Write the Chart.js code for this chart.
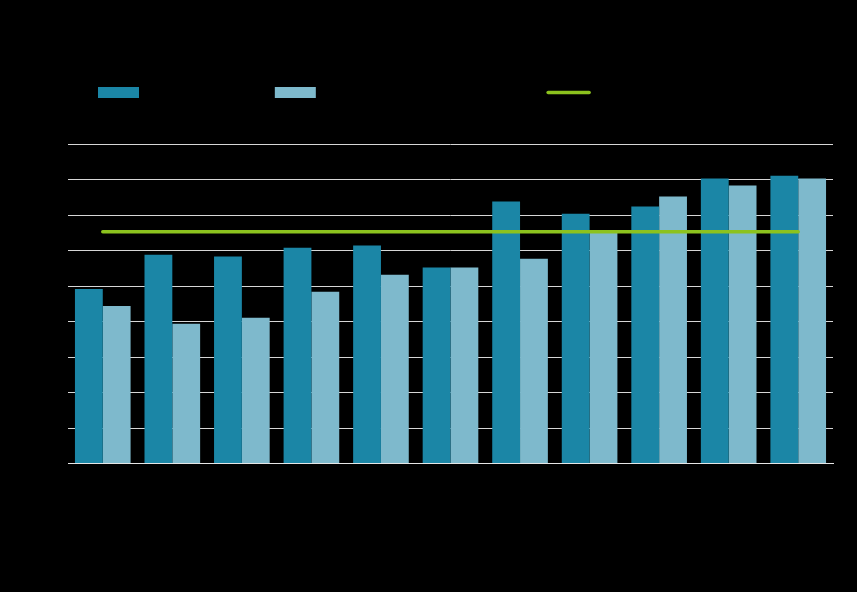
<!DOCTYPE html>
<html>
<head>
<meta charset="utf-8">
<script src="https://cdn.jsdelivr.net/npm/chart.js@4"></script>
<style>
  html, body { margin:0; padding:0; background:#000; }
  #wrap { width:857px; height:592px; }
</style>
</head>
<body>
<div id="wrap"><canvas id="grafico"></canvas></div>
<script>
// ---------- data ----------
const categorias = ["2013","2014","2015","2016","2017","2018","2019","2020","2021","2022","2023"];
const serieAtual = [49.2, 58.8, 58.3, 60.8, 61.4, 55.2, 73.8, 70.4, 72.4, 80.3, 81.1];
const serieAnterior = [44.4, 39.4, 41.1, 48.4, 53.2, 55.2, 57.7, 65.3, 75.2, 78.3, 80.3];
const media = [65.3, 65.3, 65.3, 65.3, 65.3, 65.3, 65.3, 65.3, 65.3, 65.3, 65.3];
const nomesSeries = ["Current quarter:", "Same quarters of previous year", "Average"];

const corEscura = "#1b86a6";
const corClara = "#7eb9cc";
const corVerde = "#8cc21e";

new Chart(document.getElementById("grafico"), {
    type: "bar",
    data: {
        labels: categorias,
        datasets: [
            {
                label: nomesSeries[0],
                data: serieAtual,
                backgroundColor: corEscura,
                borderWidth: 0,
                pointStyle: "rect",
                categoryPercentage: 0.8,
                barPercentage: 1.0,
                order: 1
            },
            {
                label: nomesSeries[1],
                data: serieAnterior,
                backgroundColor: corClara,
                borderWidth: 0,
                pointStyle: "rect",
                categoryPercentage: 0.8,
                barPercentage: 1.0,
                order: 1
            },
            {
                type: "line",
                label: nomesSeries[2],
                data: media,
                borderColor: corVerde,
                backgroundColor: corVerde,
                borderWidth: 3.5,
                borderCapStyle: "round",
                pointRadius: 0,
                pointStyle: "line",
                order: -1
            }
        ]
    },
    options: {
        responsive: true,
        maintainAspectRatio: false,
        animation: false,
        layout: { padding: { left: 0, right: 24, top: 0, bottom: 0 } },
        plugins: {
            title: {
                display: true,
                text: "Chart title",
                color: "#000",
                font: { size: 18 },
                padding: { top: 17, bottom: 17 },
                weight: 2000
            },
            subtitle: {
                display: true,
                text: "Index",
                color: "#000",
                font: { size: 10 },
                padding: { top: 0, bottom: 22.5 },
                weight: 1500
            },
            legend: {
                display: true,
                position: "top",
                align: "start",
                fullSize: false,
                weight: 1800,
                labels: {
                    color: "#000",
                    font: { size: 14 },
                    usePointStyle: true,
                    pointStyleWidth: 41,
                    boxHeight: 11,
                    padding: 30,
                    sort: (a, b) => a.datasetIndex - b.datasetIndex,
                    generateLabels: function(chart){
                        const itens = Chart.defaults.plugins.legend.labels.generateLabels(chart);
                        itens.forEach(it => {
                            const ds = chart.data.datasets[it.datasetIndex];
                            if (ds.type === "line") {
                                it.pointStyle = "line";
                                it.strokeStyle = corVerde;
                                it.lineWidth = 3.5;
                                it.lineCap = "round";
                            } else {
                                it.pointStyle = "rect";
                                it.lineWidth = 0;
                            }
                        });
                        return itens;
                    }
                }
            },
            tooltip: { enabled: false }
        },
        scales: {
            x: {
                grid: { display: false },
                border: { display: true, color: "#e6e6e6", width: 1 },
                ticks: { color: "#000", font: { size: 13 } },
                afterFit: function(escala){ escala.height = 128.5; }
            },
            y: {
                min: 0,
                max: 90,
                ticks: { stepSize: 10, color: "#000", font: { size: 13 } },
                grid: { color: "#d6d6d6", lineWidth: 1, drawTicks: false },
                border: { display: false },
                afterFit: function(escala){ escala.width = 68; }
            }
        }
    }
});
</script>
</body>
</html>
